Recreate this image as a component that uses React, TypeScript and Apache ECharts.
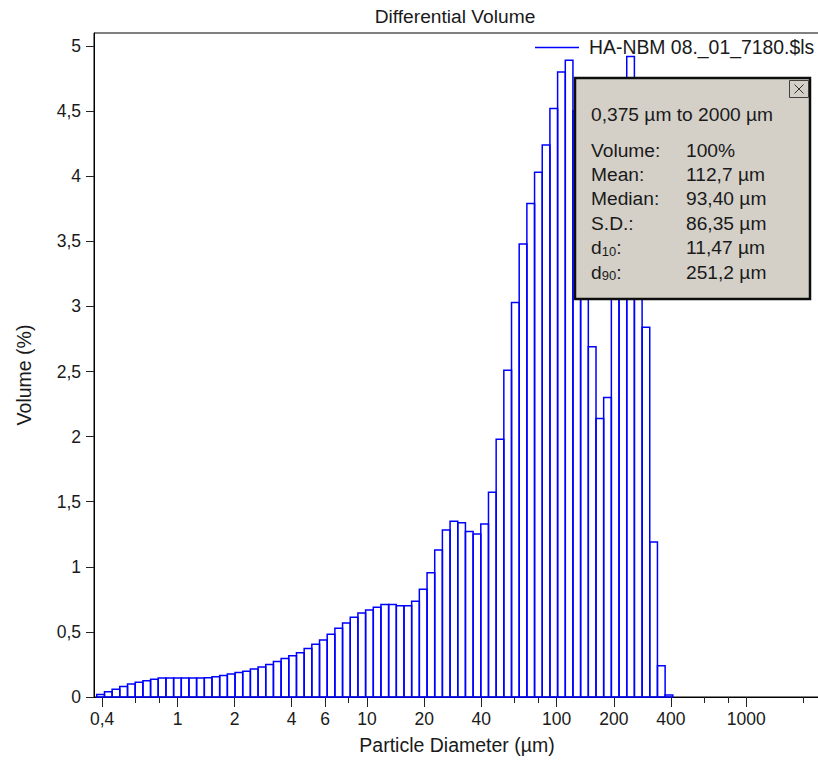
import React, { useEffect, useRef } from "react";
import * as echarts from "echarts";

// Channel lower/upper edges (µm) of the size classes that hold data
const binEdges = [
  0.375, 0.412, 0.452, 0.496, 0.545, 0.598, 0.657, 0.721, 0.791, 0.869, 0.954,
  1.047, 1.149, 1.261, 1.385, 1.52, 1.669, 1.832, 2.011, 2.208, 2.423, 2.66,
  2.92, 3.206, 3.519, 3.863, 4.241, 4.656, 5.111, 5.611, 6.159, 6.761, 7.422,
  8.148, 8.944, 9.819, 10.78, 11.83, 12.99, 14.26, 15.65, 17.18, 18.86, 20.71,
  22.73, 24.95, 27.39, 30.07, 33.01, 36.24, 39.78, 43.67, 47.94, 52.62, 57.77,
  63.41, 69.61, 76.42, 83.89, 92.09, 101.1, 111.0, 121.8, 133.7, 146.8, 161.2,
  176.9, 194.2, 213.2, 234.1, 256.9, 282.1, 309.6, 339.9, 373.1, 409.6,
];

// Differential volume (%) per channel
const volumePct = [
  0.02, 0.04, 0.06, 0.08, 0.1, 0.113, 0.125, 0.136, 0.145, 0.146, 0.146, 0.146,
  0.146, 0.146, 0.148, 0.156, 0.166, 0.177, 0.188, 0.197, 0.216, 0.23, 0.249,
  0.272, 0.295, 0.316, 0.34, 0.372, 0.405, 0.438, 0.482, 0.528, 0.569, 0.612,
  0.646, 0.669, 0.69, 0.71, 0.71, 0.7, 0.7, 0.735, 0.827, 0.955, 1.129, 1.283,
  1.349, 1.339, 1.272, 1.252, 1.329, 1.572, 1.98, 2.51, 3.03, 3.48, 3.79, 4.03,
  4.24, 4.52, 4.8, 4.89, 4.5, 4.2, 2.69, 2.14, 2.3, 4.0, 4.6, 4.92, 4.4, 2.84,
  1.19, 0.24, 0.015,
];

const xMajorTicks = [0.4, 1, 2, 4, 6, 10, 20, 40, 100, 200, 400, 1000];
const xMajorLabels = ["0,4", "1", "2", "4", "6", "10", "20", "40", "100", "200", "400", "1000"];
const xMinorTicks = [0.6, 0.8, 8, 60, 80, 600, 800, 2000];
const yTicks = [0, 0.5, 1, 1.5, 2, 2.5, 3, 3.5, 4, 4.5, 5];

const statLabels = ["Volume:", "Mean:", "Median:", "S.D.:", "{n|d}{s|10}{n|:}", "{n|d}{s|90}{n|:}"];
const statValues = ["100%", "112,7 µm", "93,40 µm", "86,35 µm", "11,47 µm", "251,2 µm"];
const rangeText = "0,375 µm to 2000 µm";
const seriesName = "HA-NBM 08._01_7180.$ls";

const FONT = "'Liberation Sans', Arial, sans-serif";
const TEXT = "#1a1a1a";
const BLUE = "#0000ff";
const BOX_FONT = 19.2;
const X_MIN = -0.4404;
const X_MAX = 3.3887;

export default function App() {
  const ref = useRef<HTMLDivElement>(null);

  useEffect(() => {
    if (!ref.current) return;
    const chart = echarts.init(ref.current, undefined, { renderer: "svg" });
    const data = volumePct.map((v, i) => [
      Math.log10(binEdges[i]),
      Math.log10(binEdges[i + 1]),
      v,
    ]);
    const majorLogs = xMajorTicks.map((v) => Math.log10(v));
    const minorLogs = xMinorTicks.map((v) => Math.log10(v));

    const statTexts: any[] = [];
    statLabels.forEach((lab, i) => {
      const y = 150 + i * 24.45;
      statTexts.push({
        type: "text",
        x: 591,
        y,
        z: 102,
        style: {
          text: lab,
          fontFamily: FONT,
          fontSize: BOX_FONT,
          fill: TEXT,
          verticalAlign: "middle",
          rich: {
            n: { fontSize: BOX_FONT, fontFamily: FONT, fill: TEXT, lineHeight: 22 },
            s: { fontSize: 13, fontFamily: FONT, fill: TEXT, lineHeight: 22, padding: [7, 0, 0, 0] },
          },
        },
      });
      statTexts.push({
        type: "text",
        x: 686,
        y,
        z: 102,
        style: {
          text: statValues[i],
          fontFamily: FONT,
          fontSize: BOX_FONT,
          fill: TEXT,
          verticalAlign: "middle",
        },
      });
    });

    chart.setOption({
      animation: false,
      backgroundColor: "#ffffff",
      grid: {
        left: 94,
        top: 33,
        right: -2,
        bottom: 65,
        outerBoundsMode: "none",
        containLabel: false,
        show: true,
        borderColor: "#000",
        borderWidth: 1,
        backgroundColor: "transparent",
      },
      xAxis: [
        {
          type: "value",
          position: "bottom",
          min: X_MIN,
          max: X_MAX,
          name: "Particle Diameter (µm)",
          nameLocation: "middle",
          nameGap: 38,
          nameTextStyle: { fontFamily: FONT, fontSize: 19.5, color: TEXT },
          axisLine: { show: true, onZero: false, lineStyle: { color: "#000", width: 1 } },
          axisTick: { show: true, length: 10, customValues: majorLogs, lineStyle: { color: "#222" } },
          axisLabel: {
            customValues: majorLogs,
            margin: 13,
            fontFamily: FONT,
            fontSize: 17.5,
            color: TEXT,
            formatter: (v: number) => {
              const i = majorLogs.findIndex((m) => Math.abs(m - v) < 1e-6);
              return i >= 0 ? xMajorLabels[i] : "";
            },
          },
          splitLine: { show: false },
        },
        {
          type: "value",
          position: "bottom",
          min: X_MIN,
          max: X_MAX,
          axisLine: { show: false, onZero: false },
          axisTick: { show: true, length: 6, customValues: minorLogs, lineStyle: { color: "#222" } },
          axisLabel: { show: false },
          splitLine: { show: false },
        },
      ],
      yAxis: {
        type: "value",
        min: 0,
        max: 5.1,
        name: "Volume (%)",
        nameLocation: "middle",
        nameGap: 60,
        nameTextStyle: { fontFamily: FONT, fontSize: 19.5, color: TEXT, padding: [0, 20, 0, 0] },
        axisLine: { show: true, onZero: false, lineStyle: { color: "#000", width: 1 } },
        axisTick: { show: true, length: 8, customValues: yTicks, lineStyle: { color: "#222" } },
        axisLabel: {
          customValues: yTicks,
          margin: 13,
          fontFamily: FONT,
          fontSize: 17.5,
          color: TEXT,
          formatter: (v: number) => String(v).replace(".", ","),
        },
        splitLine: { show: false },
      },
      series: [
        {
          type: "custom",
          name: seriesName,
          xAxisIndex: 0,
          yAxisIndex: 0,
          encode: { x: [0, 1], y: 2 },
          data,
          renderItem: (params: any, api: any) => {
            const lo = api.value(0);
            const hi = api.value(1);
            const v = api.value(2);
            const p0 = api.coord([lo, 0]);
            const p1 = api.coord([hi, v]);
            return {
              type: "rect",
              shape: { x: p0[0], y: p1[1], width: p1[0] - p0[0], height: p0[1] - p1[1] },
              style: { fill: "none", stroke: BLUE, lineWidth: 1.5 },
            };
          },
        },
      ],
      graphic: [
        {
          type: "text",
          x: 455,
          y: 16,
          style: {
            text: "Differential Volume",
            fontFamily: FONT,
            fontSize: 19.2,
            fill: TEXT,
            align: "center",
            verticalAlign: "middle",
          },
        },
        {
          type: "line",
          z: 50,
          shape: { x1: 535, y1: 47.5, x2: 579, y2: 47.5 },
          style: { stroke: BLUE, lineWidth: 1.3 },
        },
        {
          type: "text",
          x: 589,
          y: 47,
          z: 50,
          style: {
            text: seriesName,
            fontFamily: FONT,
            fontSize: 19.4,
            fill: TEXT,
            verticalAlign: "middle",
          },
        },
        {
          type: "rect",
          z: 100,
          shape: { x: 575, y: 78, width: 235, height: 221 },
          style: { fill: "#d4d0c8", stroke: "#0d0d0d", lineWidth: 2.5 },
        },
        {
          type: "rect",
          z: 101,
          shape: { x: 789.5, y: 80.5, width: 19, height: 17 },
          style: { fill: "#d4d0c8", stroke: "#404040", lineWidth: 1 },
        },
        {
          type: "line",
          z: 102,
          shape: { x1: 794.5, y1: 84.5, x2: 803.5, y2: 93.5 },
          style: { stroke: "#333", lineWidth: 1 },
        },
        {
          type: "line",
          z: 102,
          shape: { x1: 803.5, y1: 84.5, x2: 794.5, y2: 93.5 },
          style: { stroke: "#333", lineWidth: 1 },
        },
        {
          type: "text",
          x: 591,
          y: 114,
          z: 102,
          style: {
            text: rangeText,
            fontFamily: FONT,
            fontSize: BOX_FONT,
            fill: TEXT,
            verticalAlign: "middle",
          },
        },
        ...statTexts,
      ],
    });
    return () => chart.dispose();
  }, []);

  return (
    <div
      ref={ref}
      style={{ position: "absolute", left: 0, top: 0, width: 818, height: 762 }}
    />
  );
}
